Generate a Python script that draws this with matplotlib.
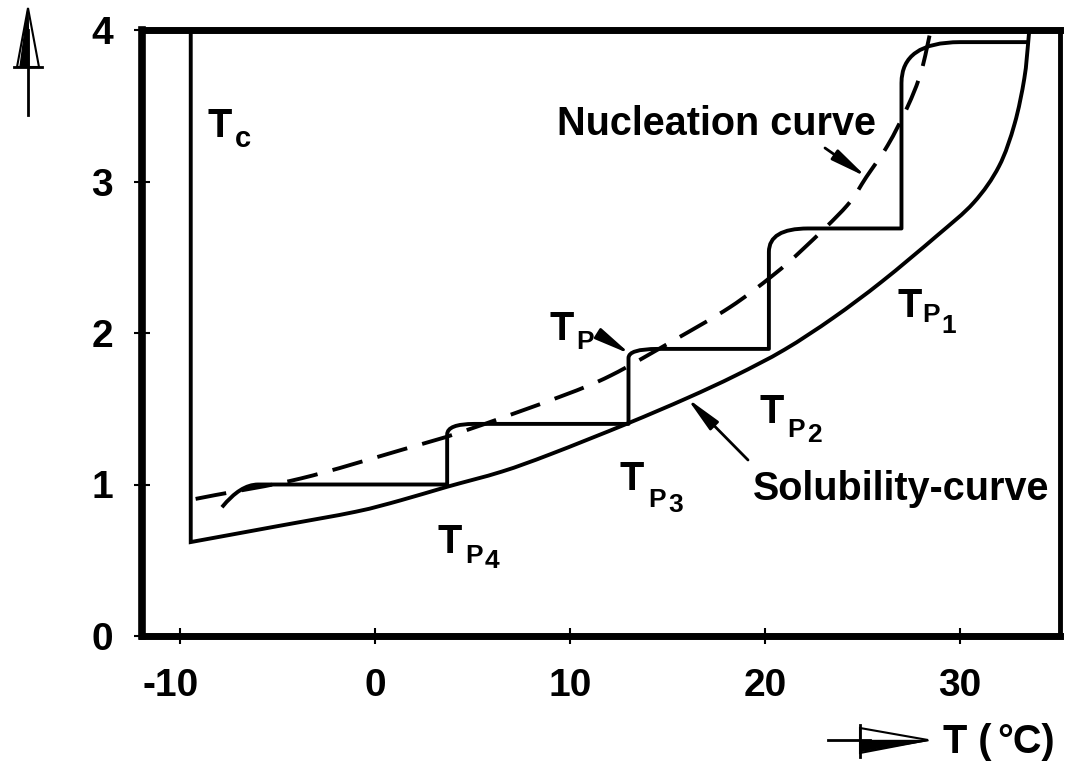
import matplotlib
matplotlib.use('Agg')
import matplotlib.pyplot as plt
from matplotlib.path import Path
from matplotlib.patches import PathPatch, Polygon
from matplotlib.lines import Line2D
from matplotlib.transforms import IdentityTransform, offset_copy

plt.rcParams['font.family'] = ['Liberation Sans', 'DejaVu Sans']
plt.rcParams['font.weight'] = 'bold'

# ---------------- data ----------------
x_ticks = [-10, 0, 10, 20, 30]
y_ticks = [0, 1, 2, 3, 4]

tc_x = -9.45          # vertical T_c line
tc_top = 4.0

sol_x = [-9.45, -5.0, -1.0, 1.3, 3.7, 6.5, 9.0, 12.9, 16.0, 18.5, 21.0, 23.5, 26.0, 28.8, 30.7, 32.0, 32.8, 33.3, 33.5, 33.55]
sol_y = [0.62, 0.725, 0.82, 0.895, 0.985, 1.085, 1.20, 1.40, 1.57, 1.72, 1.89, 2.10, 2.34, 2.64, 2.86, 3.10, 3.38, 3.68, 3.92, 4.00]

nuc_x = [-9.2, -8.2, -3.8, 1.4, 4.5, 9.5, 12.1, 15.3, 18.2, 20.4, 22.0, 24.2, 25.2, 26.3, 27.3, 28.0, 28.5]
nuc_y = [0.905, 0.93, 1.04, 1.23, 1.35, 1.58, 1.72, 1.95, 2.17, 2.38, 2.56, 2.84, 3.03, 3.24, 3.49, 3.72, 4.00]

# staircase (cooling steps)
first_start = (-7.85, 0.85)
first_level = 1.0
first_level_start = -6.0
step_x = [3.7, 13.0, 20.2, 27.0]
step_rise_top = [1.33, 1.835, 2.535, 3.65]
step_level = [1.40, 1.895, 2.69, 3.92]
step_level_start = [5.1, 14.5, 22.2, 30.0]
last_level_end = 33.5


def smooth_path(xs, ys, lead=None):
    """Smooth curve through the given points (Catmull-Rom drawn as Bezier path)."""
    pts = list(zip(xs, ys))
    n = len(pts)
    verts, codes = [], []
    if lead is not None:
        verts += [lead, pts[0]]
        codes += [Path.MOVETO, Path.LINETO]
    else:
        verts.append(pts[0])
        codes.append(Path.MOVETO)
    for i in range(n - 1):
        p0 = pts[i - 1] if i > 0 else pts[i]
        p1 = pts[i]
        p2 = pts[i + 1]
        p3 = pts[i + 2] if i + 2 < n else pts[i + 1]
        c1 = (p1[0] + (p2[0] - p0[0]) / 6, p1[1] + (p2[1] - p0[1]) / 6)
        c2 = (p2[0] - (p3[0] - p1[0]) / 6, p2[1] - (p3[1] - p1[1]) / 6)
        verts += [c1, c2, p2]
        codes += [Path.CURVE4] * 3
    return Path(verts, codes)


# ---------------- figure ----------------
W, H = 1065, 762
fig = plt.figure(figsize=(W / 100, H / 100), dpi=100)
ax = fig.add_axes([142 / W, 1 - 636 / H, (1060 - 142) / W, (636 - 30) / H])
ax.set_xlim(-11.95, 35.13)
ax.set_ylim(0, 4)

for side, lw in [('left', 5.5), ('top', 5), ('bottom', 5), ('right', 3.5)]:
    ax.spines[side].set_linewidth(lw)
    ax.spines[side].set_color('black')

ax.set_xticks(x_ticks)
ax.set_yticks(y_ticks)
ax.set_xticklabels([str(v) for v in x_ticks])
ax.set_yticklabels([str(v) for v in y_ticks])
ax.tick_params(axis='both', direction='inout', length=12, width=1.5,
               labelsize=28)
ax.tick_params(axis='x', pad=17)
ax.tick_params(axis='y', pad=15)
for lab in ax.get_xticklabels() + ax.get_yticklabels():
    lab.set_fontweight('bold')
# the "-10" label sits a little left of its tick in the original
xl0 = ax.get_xticklabels()[0]
xl0.set_transform(offset_copy(xl0.get_transform(), fig=fig, x=-9, y=0, units='dots'))

LW = 2.8
# T_c line + solubility curve
ax.add_patch(PathPatch(smooth_path(sol_x, sol_y, lead=(tc_x, tc_top)), fill=False, lw=LW,
                       edgecolor='black', joinstyle='miter', capstyle='butt', clip_on=False))

# nucleation curve (dashed)
ax.add_patch(PathPatch(smooth_path(nuc_x, nuc_y), fill=False, lw=LW, edgecolor='black',
                       linestyle=(0, (8, 4)), capstyle='butt', clip_on=False))

# staircase path
verts = [first_start, (first_level_start - 0.9, first_level), (first_level_start, first_level),
         (step_x[0], first_level)]
codes = [Path.MOVETO, Path.CURVE3, Path.CURVE3, Path.LINETO]
for i in range(len(step_x)):
    end_x = step_x[i + 1] if i + 1 < len(step_x) else last_level_end
    verts += [(step_x[i], step_rise_top[i]),
              (step_x[i], step_level[i]),
              (step_level_start[i], step_level[i]),
              (end_x, step_level[i])]
    codes += [Path.LINETO, Path.CURVE3, Path.CURVE3, Path.LINETO]
ax.add_patch(PathPatch(Path(verts, codes), fill=False, lw=LW, edgecolor='black',
                       joinstyle='round', capstyle='butt'))

# ---------------- labels ----------------
def ftext(x, y, s, size, **kw):
    fig.text(x / W, 1 - y / H, s, fontsize=size, fontweight='bold',
             ha='left', va='baseline', **kw)

BIG, SUB = 28.5, 19

ftext(208, 137, 'T', BIG)
ftext(235, 147, 'c', 21)

ftext(550, 340, 'T', BIG)
ftext(576, 349, 'P', SUB)

for (tx, ty), (px_, py_), (dx, dy), d in [((897, 317), (922, 322), (941, 333), '1'),
                                           ((760, 423), (787, 437), (807, 442), '2'),
                                           ((620, 490), (648, 507), (668, 512), '3'),
                                           ((437, 553), (465, 563), (485, 568), '4')]:
    ftext(tx, ty, 'T', BIG)
    ftext(px_, py_, 'P', SUB)
    ftext(dx, dy, d, SUB)

ftext(557, 135, 'Nucleation curve', BIG)
ftext(753, 500, 'Solubility-curve', BIG)
ftext(943, 753, 'T (', BIG)
ftext(997, 753, '°C)', BIG)

arrow_kw = dict(arrowstyle='-|>,head_length=1.8,head_width=0.3', mutation_scale=12,
                color='black', lw=2.0, shrinkA=0, shrinkB=0)
ax.annotate('', xy=(25.2, 3.03), xycoords='data',
            xytext=(825, H - 148), textcoords='figure pixels', arrowprops=arrow_kw)
ax.annotate('', xy=(13.1, 1.86), xycoords='data',
            xytext=(600, H - 335), textcoords='figure pixels', arrowprops=arrow_kw)
ax.annotate('', xy=(16.0, 1.57), xycoords='data',
            xytext=(748, H - 460), textcoords='figure pixels', arrowprops=arrow_kw)

# axis direction arrows (display pixels)
idt = IdentityTransform()
def P(x, y):
    return (x, H - y)

# vertical arrow top-left
fig.add_artist(Line2D([28, 28], [H - 115, H - 30], color='black', lw=2, transform=idt))
fig.add_artist(Polygon([P(28, 8), P(17, 67), P(39, 67)], closed=True, facecolor='white',
                       edgecolor='black', lw=1.5, transform=idt))
fig.add_artist(Polygon([P(28, 8), P(20, 67), P(29, 67)], closed=True, facecolor='black',
                       edgecolor='black', lw=1, transform=idt))
fig.add_artist(Line2D([14, 42], [H - 67, H - 67], color='black', lw=2, transform=idt))

# horizontal arrow bottom-right
fig.add_artist(Line2D([828, 870], [H - 740, H - 740], color='black', lw=2, transform=idt))
fig.add_artist(Polygon([P(928, 740), P(860, 728), P(860, 753)], closed=True, facecolor='white',
                       edgecolor='black', lw=1.5, transform=idt))
fig.add_artist(Polygon([P(928, 740), P(860, 740), P(860, 751)], closed=True, facecolor='black',
                       edgecolor='black', lw=1, transform=idt))
fig.add_artist(Line2D([860, 860], [H - 725, H - 757], color='black', lw=2, transform=idt))

fig.savefig('out.png', dpi=100, facecolor='white')
